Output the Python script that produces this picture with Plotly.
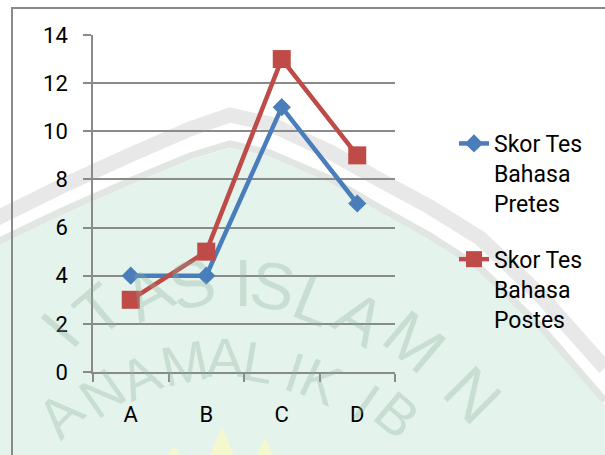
import plotly.graph_objects as go

categories = ["A", "B", "C", "D"]
pretes = [4, 4, 11, 7]
postes = [3, 5, 13, 9]
name_pretes = "Skor Tes<br>Bahasa<br>Pretes"
name_postes = "Skor Tes<br>Bahasa<br>Postes"
y_ticks = [0, 2, 4, 6, 8, 10, 12, 14]

W, H = 605, 455
L, R, T, B = 93, 210, 35, 83
PW, PH = W - L - R, H - T - B


def px(x, y):
    return (x - L) / PW, (H - B - y) / PH


def path(points, close=False):
    s = ""
    for i, (x, y) in enumerate(points):
        a, b = px(x, y)
        s += ("M" if i == 0 else "L") + f"{a:.4f},{b:.4f} "
    if close:
        s += "Z"
    return s


GRAY = "#8a8a8a"
BLUE = "#4a7ebb"
RED = "#be4b48"
FONT = "Roboto"

fig = go.Figure()
fig.add_trace(go.Scatter(
    x=categories, y=pretes, name=name_pretes, mode="lines+markers",
    line=dict(color=BLUE, width=4.5),
    marker=dict(symbol="diamond", size=14, color=BLUE),
    legendgroup="g1",
))
fig.add_trace(go.Scatter(
    x=categories, y=postes, name=name_postes, mode="lines+markers",
    line=dict(color=RED, width=4.5),
    marker=dict(symbol="square", size=18, color=RED),
    legendgroup="g2",
))

# background watermark (decoration)
mint_top = [(-5, 247), (60, 216), (130, 185), (190, 160), (230, 148), (270, 157),
            (330, 183), (380, 212), (430, 240), (480, 272), (540, 330), (605, 405)]
outer_band = [(-5, 219), (60, 187), (130, 155), (190, 129), (230, 115), (270, 124),
              (330, 152), (380, 180), (430, 207), (480, 238), (540, 295), (605, 368)]
inner_band = [(x, y - 4) for x, y in mint_top]

shapes = [
    dict(type="path", xref="paper", yref="paper", layer="below",
         path=path(mint_top + [(610, 460), (-5, 460)], close=True),
         fillcolor="#e4f3eb", line=dict(width=0)),
    dict(type="path", xref="paper", yref="paper", layer="below",
         path=path(inner_band), line=dict(color="#e1e6e3", width=7)),
    dict(type="path", xref="paper", yref="paper", layer="below",
         path=path(outer_band), line=dict(color="#e8e8e8", width=15)),
]
for tri in ([(167, 456), (174, 446), (181, 456)],
            [(210, 456), (222, 427), (234, 456)],
            [(257, 456), (265, 437), (273, 456)]):
    shapes.append(dict(type="path", xref="paper", yref="paper", layer="below",
                       path=path(tri, close=True), fillcolor="#f5f7cc", line=dict(width=0)))

bx0, by0 = px(12, 8)
bx1, by1 = px(640, 500)
shapes.append(dict(type="rect", xref="paper", yref="paper", layer="below",
                   x0=bx0, y0=by1, x1=bx1, y1=by0,
                   line=dict(color=GRAY, width=2), fillcolor="rgba(0,0,0,0)"))

outer_letters = [("I", 60, 330, -50), ("T", 99, 310, -40),
                 ("A", 148, 293, -28), ("S", 192, 284, -15), ("I", 243, 283, 0),
                 ("S", 273, 286, 10), ("L", 314, 300, 22), ("A", 360, 318, 32),
                 ("M", 415, 342, 40), ("N", 473, 395, 45)]
inner_letters = [("A", 60, 414, -45), ("N", 102, 393, -35),
                 ("A", 140, 376, -25), ("M", 184, 363, -12), ("A", 225, 357, 0),
                 ("L", 258, 362, 10), ("I", 295, 372, 18), ("K", 320, 382, 25),
                 ("I", 367, 402, 35), ("B", 397, 414, 40)]
annotations = []
for letters, size in ((outer_letters, 66), (inner_letters, 56)):
    for ch, x, y, ang in letters:
        ax_, ay_ = px(x, y)
        annotations.append(dict(
            text=ch, x=ax_, y=ay_, xref="paper", yref="paper", showarrow=False,
            textangle=ang, xanchor="center", yanchor="middle",
            font=dict(family="Liberation Sans", size=size, color="rgba(140,175,155,0.3)"),
        ))

lx, ly = px(454, 122)

fig.update_layout(
    width=W, height=H,
    margin=dict(l=L, r=R, t=T, b=B),
    paper_bgcolor="white",
    plot_bgcolor="rgba(0,0,0,0)",
    font=dict(family=FONT, size=22, color="#000000"),
    shapes=shapes,
    annotations=annotations,
    showlegend=True,
    legend=dict(
        x=lx, y=ly, xanchor="left", yanchor="top",
        font=dict(family=FONT, size=23, color="#000000"),
        bgcolor="rgba(0,0,0,0)", valign="top",
        traceorder="grouped", tracegroupgap=23,
    ),
    xaxis=dict(
        type="category", range=[-0.5, 3.5],
        showline=True, linecolor=GRAY, linewidth=1.5,
        ticks="outside", tickson="boundaries", ticklen=8, tickcolor=GRAY, tickwidth=1.5,
        showgrid=False, zeroline=False, ticklabelstandoff=22,
        tickfont=dict(family=FONT, size=22),
    ),
    yaxis=dict(
        range=[0, 14], tickvals=y_ticks,
        showline=True, linecolor=GRAY, linewidth=1.5,
        ticks="outside", ticklen=8, tickcolor=GRAY, tickwidth=1.5,
        showgrid=True, gridcolor=GRAY, gridwidth=1.5, zeroline=False,
        ticklabelstandoff=11,
        tickfont=dict(family=FONT, size=22),
    ),
)

fig.write_html("out.html")
